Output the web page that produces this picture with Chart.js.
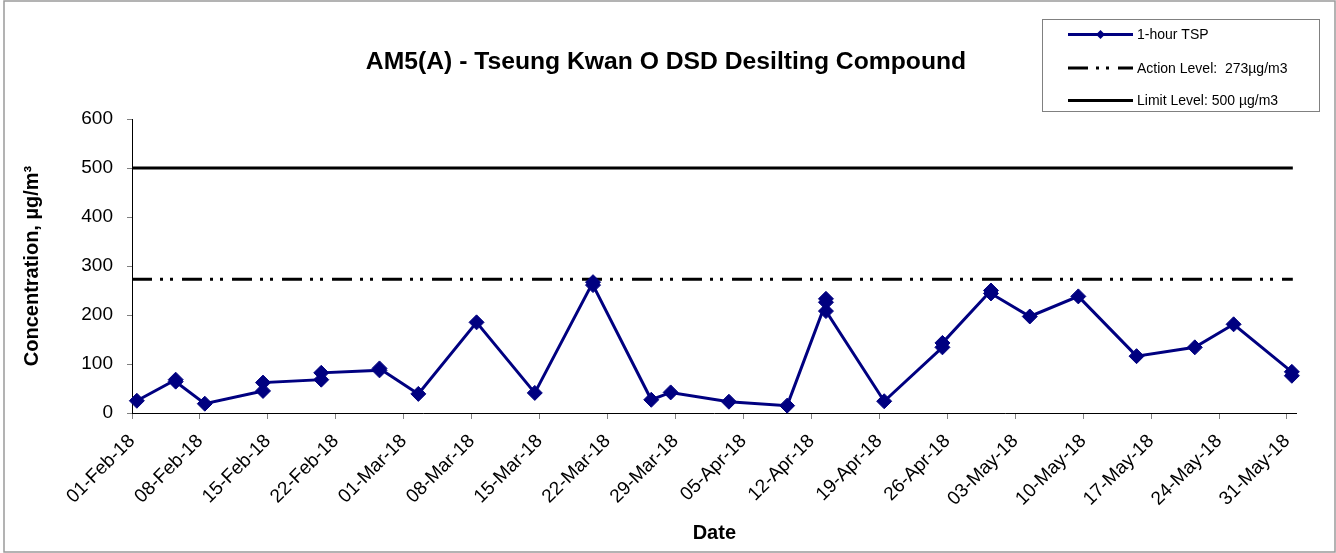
<!DOCTYPE html>
<html><head><meta charset="utf-8">
<script src="https://cdn.jsdelivr.net/npm/chart.js@4.4.1/dist/chart.umd.min.js"></script>
<style>html,body{margin:0;padding:0;background:#fff;} canvas{display:block;}</style>
</head><body>
<canvas id="c" width="1336" height="553"></canvas>
<script>
// ---------- data ----------
const chartTitle = 'AM5(A) - Tseung Kwan O DSD Desilting Compound';
const seriesName = '1-hour TSP';
const sampleDates = [
  '01-Feb-18','05-Feb-18','05-Feb-18','08-Feb-18','14-Feb-18','14-Feb-18',
  '20-Feb-18','20-Feb-18','26-Feb-18','26-Feb-18','02-Mar-18','08-Mar-18',
  '14-Mar-18','20-Mar-18','20-Mar-18','26-Mar-18','28-Mar-18','03-Apr-18',
  '09-Apr-18','13-Apr-18','13-Apr-18','13-Apr-18','19-Apr-18','25-Apr-18',
  '25-Apr-18','30-Apr-18','30-Apr-18','04-May-18','09-May-18','15-May-18',
  '21-May-18','25-May-18','31-May-18','31-May-18'
];
const tspValues = [
  25, 68, 64, 19, 45, 62,
  68, 82, 87, 91, 39, 185,
  41, 267, 261, 27, 42, 23,
  15, 226, 233, 208, 24, 134,
  143, 250, 244, 197, 238, 116,
  134, 181, 84, 76
];
const actionLevel = 273;
const limitLevel = 500;
const actionLabel = 'Action Level:  273\u00b5g/m3';
const limitLabel = 'Limit Level: 500 \u00b5g/m3';
const levelSpanDays = [0, 119.6];
const tickLabels = [
  '01-Feb-18','08-Feb-18','15-Feb-18','22-Feb-18','01-Mar-18','08-Mar-18',
  '15-Mar-18','22-Mar-18','29-Mar-18','05-Apr-18','12-Apr-18','19-Apr-18',
  '26-Apr-18','03-May-18','10-May-18','17-May-18','24-May-18','31-May-18'
];
const axisStartDate = '01-Feb-18';
const axisEndDate = '01-Jun-18';
const yMin = 0, yMax = 600, yStep = 100;
const xTitle = 'Date';
const yTitle = 'Concentration, \u00b5g/m\u00b3';

// ---------- helpers ----------
const MON = {Jan:0,Feb:1,Mar:2,Apr:3,May:4,Jun:5,Jul:6,Aug:7,Sep:8,Oct:9,Nov:10,Dec:11};
function toUTC(s){ const p = s.split('-'); return Date.UTC(2000 + +p[2], MON[p[1]], +p[0]); }
const T0 = toUTC(axisStartDate);
function dayOf(s){ return (toUTC(s) - T0) / 86400000; }

const FAM = '"Liberation Sans", Arial, Helvetica, sans-serif';
const NAVY = '#000080';
const actionDash = [20, 8, 3, 7, 3, 9];

const tspData = sampleDates.map((d, i) => ({x: dayOf(d) + 0.5, y: tspValues[i]}));
const actionData = levelSpanDays.map(x => ({x, y: actionLevel}));
const limitData = levelSpanDays.map(x => ({x, y: limitLevel}));

const decor = {
  id: 'decor',
  afterDraw(chart) {
    const ctx = chart.ctx;
    ctx.save();
    // outer frame
    ctx.strokeStyle = '#9a9a9a';
    ctx.lineWidth = 1.5;
    ctx.strokeRect(4, 1, 1331, 551);
    // title
    ctx.fillStyle = '#000';
    ctx.font = 'bold 24.7px ' + FAM;
    ctx.textAlign = 'center';
    ctx.textBaseline = 'middle';
    ctx.fillText(chartTitle, 666, 62);
    // legend
    ctx.strokeStyle = '#808080';
    ctx.lineWidth = 1;
    ctx.strokeRect(1042.5, 19.5, 277, 92);
    const ds = chart.data.datasets;
    const rows = [34.5, 68, 100.5];
    const x0 = 1068, x1 = 1133;
    ctx.font = '14px ' + FAM;
    ctx.textAlign = 'left';
    ds.forEach((d, i) => {
      const y = rows[i];
      ctx.save();
      ctx.strokeStyle = d.borderColor;
      ctx.lineWidth = d.borderWidth;
      ctx.setLineDash(d.borderDash || []);
      ctx.beginPath(); ctx.moveTo(x0, y); ctx.lineTo(x1, y); ctx.stroke();
      ctx.restore();
      if (d.pointRadius > 0) {
        const r = 4.5, cx = (x0 + x1) / 2;
        ctx.fillStyle = d.pointBackgroundColor;
        ctx.beginPath();
        ctx.moveTo(cx, y - r); ctx.lineTo(cx + r, y); ctx.lineTo(cx, y + r); ctx.lineTo(cx - r, y);
        ctx.closePath(); ctx.fill();
      }
      ctx.fillStyle = '#000';
      ctx.fillText(d.label, 1137, y + 1);
    });
    ctx.restore();
  }
};

new Chart(document.getElementById('c'), {
  type: 'line',
  data: {
    datasets: [
      {label: seriesName, data: tspData, borderColor: NAVY, backgroundColor: NAVY,
       borderWidth: 3, pointStyle: 'rectRot', pointRadius: 7.5, pointBorderWidth: 1,
       pointBackgroundColor: NAVY, pointBorderColor: NAVY, tension: 0, clip: false, order: 0},
      {label: actionLabel, data: actionData, borderColor: '#000', borderWidth: 3,
       borderDash: actionDash, pointRadius: 0, order: 1},
      {label: limitLabel, data: limitData, borderColor: '#000', borderWidth: 3,
       pointRadius: 0, order: 2}
    ]
  },
  options: {
    responsive: false,
    animation: false,
    events: [],
    layout: {padding: {top: 119, right: 39.3, bottom: 0, left: 0}},
    plugins: {legend: {display: false}, title: {display: false}, tooltip: {enabled: false}},
    scales: {
      x: {
        type: 'linear',
        min: 0, max: dayOf(axisEndDate),
        afterFit(s) { s.height = 140; },
        afterBuildTicks(s) { s.ticks = tickLabels.map(l => ({value: dayOf(l)})); },
        ticks: {autoSkip: false, minRotation: 45, maxRotation: 45, padding: 11, color: '#000',
                font: {family: FAM, size: 19}, callback: (v, i) => tickLabels[i]},
        grid: {drawOnChartArea: false, drawTicks: true, tickLength: 6, color: '#808080'},
        border: {display: true, color: '#000', width: 1},
        title: {display: true, text: xTitle, color: '#000',
                font: {family: FAM, size: 20, weight: 'bold'}, padding: {top: 0, bottom: 8}}
      },
      y: {
        min: yMin, max: yMax,
        afterFit(s) { s.width = 132; },
        ticks: {stepSize: yStep, padding: 14, color: '#000', font: {family: FAM, size: 19}},
        grid: {drawOnChartArea: false, drawTicks: true, tickLength: 5, color: '#808080'},
        border: {display: true, color: '#000', width: 1},
        title: {display: true, text: yTitle, color: '#000',
                font: {family: FAM, size: 20, weight: 'bold'}, padding: {top: 20, bottom: 0}}
      }
    }
  },
  plugins: [decor]
});
</script>
</body></html>
